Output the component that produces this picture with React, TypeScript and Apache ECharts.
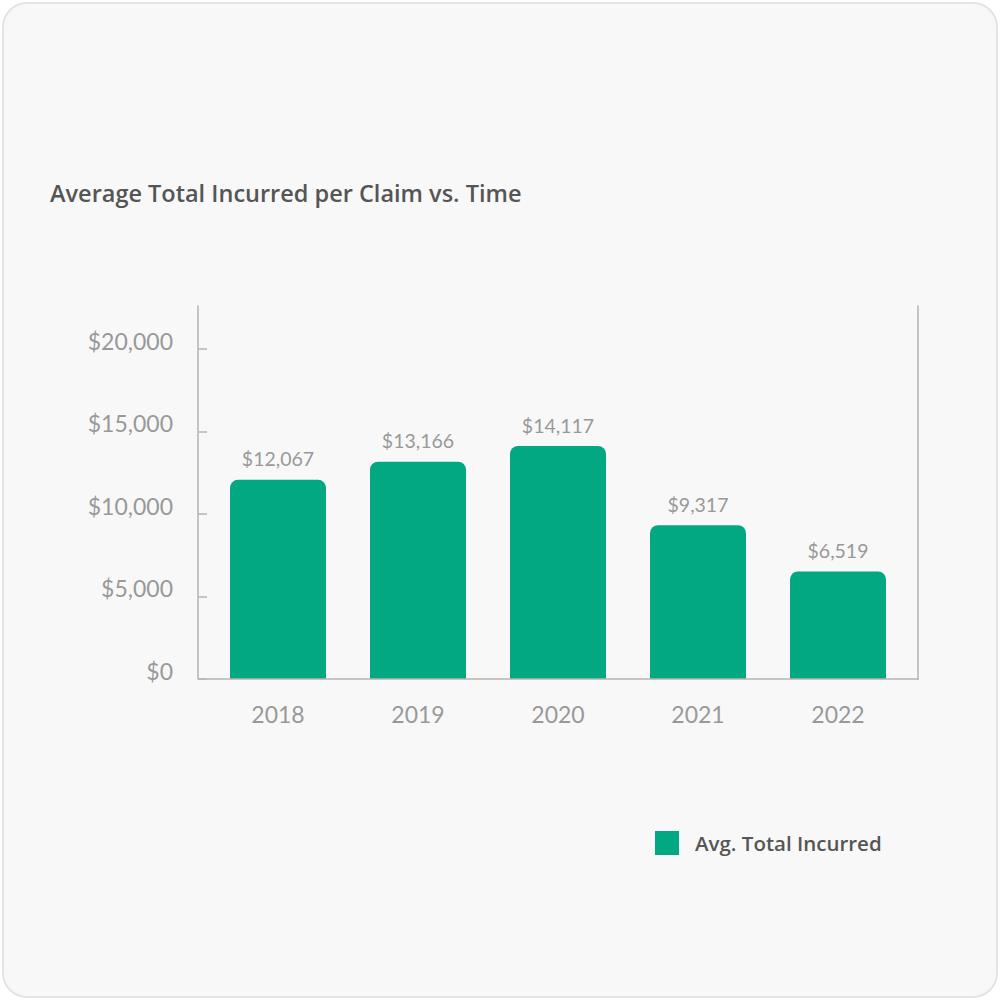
import React, { useEffect, useRef } from "react";
import * as echarts from "echarts";

const years = ["2018", "2019", "2020", "2021", "2022"];
const avgTotalIncurred = [12067, 13166, 14117, 9317, 6519];
const yTickValues = [0, 5000, 10000, 15000, 20000];
const seriesName = "Avg. Total Incurred";
const titleText = "Average Total Incurred per Claim vs. Time";

const FONT = "Lato, 'Open Sans', sans-serif";
const HEAD_FONT = "'Open Sans', Lato, sans-serif";
const fmt = (v: number) => "$" + Number(v).toLocaleString("en-US");

export default function App() {
  const ref = useRef<HTMLDivElement>(null);
  useEffect(() => {
    if (!ref.current) return;
    const chart = echarts.init(ref.current, undefined, { renderer: "svg" });
    const axisColor = "#b5b5b5";
    chart.setOption({
      animation: false,
      backgroundColor: "#ffffff",
      textStyle: { fontFamily: FONT },
      title: {
        text: titleText,
        left: 50,
        top: 181,
        padding: 0,
        textStyle: { color: "#555555", fontSize: 23.5, fontWeight: 600, fontFamily: HEAD_FONT },
      },
      legend: {
        data: [{ name: seriesName }],
        icon: "rect",
        left: 655,
        top: 831,
        padding: 0,
        itemWidth: 24,
        itemHeight: 24,
        textStyle: { color: "#555555", fontSize: 20.5, fontWeight: 600, fontFamily: HEAD_FONT, padding: [0, 0, 0, 11] },
      },
      graphic: [
        {
          type: "rect",
          z: -10,
          shape: { x: 3, y: 3, width: 994, height: 994, r: 24 },
          style: { fill: "#f8f8f8", stroke: "#e4e4e4", lineWidth: 2 },
          silent: true,
        },
        {
          type: "line",
          z: 100,
          shape: { x1: 198, y1: 679, x2: 919, y2: 679 },
          style: { stroke: axisColor, lineWidth: 1.5 },
          silent: true,
        },
      ],
      grid: { left: 208, right: 92, top: 306, bottom: 321 },
      xAxis: {
        type: "category",
        data: years,
        axisLine: { show: false },
        axisTick: { show: false },
        axisLabel: { color: "#999999", fontSize: 23, margin: 23, fontFamily: FONT },
      },
      yAxis: [
        {
          type: "value",
          min: 0,
          max: 22600,
          offset: 10,
          position: "left",
          splitLine: { show: false },
          axisLine: { show: true, lineStyle: { color: axisColor, width: 1.5 } },
          axisTick: { show: true, inside: true, length: 9, customValues: yTickValues, lineStyle: { color: axisColor, width: 1.5 } },
          axisLabel: {
            customValues: yTickValues,
            formatter: (v: number) => fmt(v),
            color: "#999999",
            fontSize: 23,
            margin: 25,
            verticalAlign: "bottom",
            lineHeight: 16,
            fontFamily: FONT,
          },
        },
        {
          type: "value",
          min: 0,
          max: 22600,
          offset: 10,
          position: "right",
          splitLine: { show: false },
          axisLine: { show: true, lineStyle: { color: axisColor, width: 1.5 } },
          axisTick: { show: false },
          axisLabel: { show: false },
        },
      ],
      series: [
        {
          name: seriesName,
          type: "bar",
          data: avgTotalIncurred,
          barWidth: 96,
          itemStyle: { color: "#02a882", borderRadius: [8, 8, 0, 0] },
          label: {
            show: true,
            position: "top",
            distance: 11,
            formatter: (p: any) => fmt(p.value),
            color: "#999999",
            fontSize: 19.5,
            fontFamily: FONT,
          },
        },
      ],
    });
    return () => chart.dispose();
  }, []);
  return (
    <div style={{ position: "fixed", left: 0, top: 0, width: 1000, height: 1000, background: "#fff" }}>
      <div ref={ref} style={{ width: 1000, height: 1000 }} />
    </div>
  );
}
